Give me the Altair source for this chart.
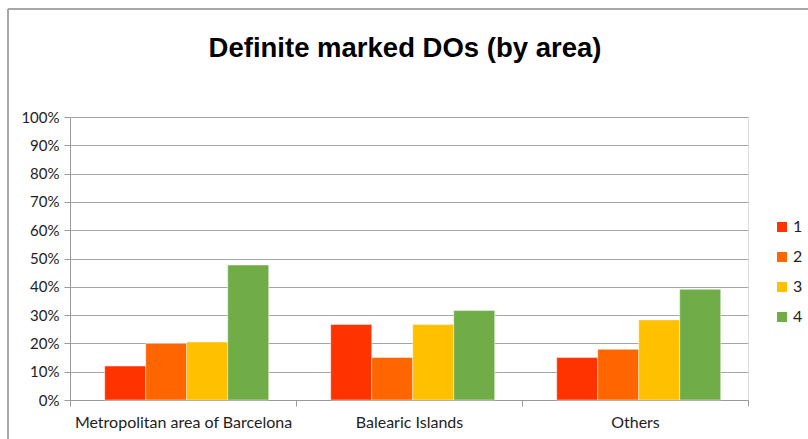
import altair as alt
import pandas as pd

categories = ["Metropolitan area of Barcelona", "Balearic Islands", "Others"]
series = ["1", "2", "3", "4"]
values_1 = [0.120, 0.267, 0.150]
values_2 = [0.200, 0.150, 0.179]
values_3 = [0.205, 0.267, 0.283]
values_4 = [0.477, 0.316, 0.391]
colors = ["#FF3300", "#FF6600", "#FFC000", "#70AD47"]

rows = []
for s, vals in zip(series, [values_1, values_2, values_3, values_4]):
    for c, v in zip(categories, vals):
        rows.append({"area": c, "series": s, "value": v})
df = pd.DataFrame(rows)

font = "Lato"
W, H = 678, 283

bars = alt.Chart(df).mark_bar(stroke="white", strokeOpacity=0.45, strokeWidth=1).encode(
    x=alt.X("area:N", sort=categories, title=None,
            scale=alt.Scale(paddingInner=0, paddingOuter=0),
            axis=alt.Axis(labelAngle=0, tickBand="extent", labelFont=font, labelFontSize=16,
                          labelColor="#222222", labelPadding=8, tickSize=6, labelLimit=400,
                          domainColor="#9A9A9A", tickColor="#9A9A9A", grid=False)),
    xOffset=alt.XOffset("series:N", sort=series,
                        scale=alt.Scale(paddingInner=0, paddingOuter=0.756, align=0.56)),
    y=alt.Y("value:Q", title=None,
            scale=alt.Scale(domain=[0, 1], nice=False),
            axis=alt.Axis(format=".0%", values=[i / 10 for i in range(11)], labelFont=font,
                          labelFontSize=15, labelColor="#222222", tickSize=6, labelPadding=5,
                          domainColor="#9A9A9A", tickColor="#9A9A9A",
                          gridColor="#A6A6A6", gridWidth=1)),
    color=alt.Color("series:N", sort=series, title=None,
                    scale=alt.Scale(domain=series, range=colors),
                    legend=alt.Legend(orient="none", legendX=704, legendY=102,
                                      symbolType="square", symbolSize=100, symbolStrokeWidth=0,
                                      labelFont=font, labelFontSize=16, labelColor="#222222",
                                      labelOffset=3, rowPadding=14)),
)

border_top = alt.Chart(df).mark_rule(color="#A8A8A8", strokeWidth=1.5).encode(
    x=alt.value(-62), x2=alt.value(760), y=alt.value(-108))
border_left = alt.Chart(df).mark_rule(color="#A8A8A8", strokeWidth=1.5).encode(
    x=alt.value(-62), y=alt.value(-108), y2=alt.value(340))

chart = alt.layer(bars, border_top, border_left).properties(
    width=W, height=H,
    autosize=alt.AutoSizeParams(type="none"),
    padding={"left": 70, "top": 117, "right": 60, "bottom": 39},
    title=alt.Title("Definite marked DOs (by area)", font="Liberation Sans", fontSize=27.5,
                    fontWeight="bold", color="#000000", anchor="middle", offset=0, dx=-4, dy=54),
).configure_view(stroke=None).configure(background="white")

chart.save("out.html", embed_options={"renderer": "svg", "actions": False})
